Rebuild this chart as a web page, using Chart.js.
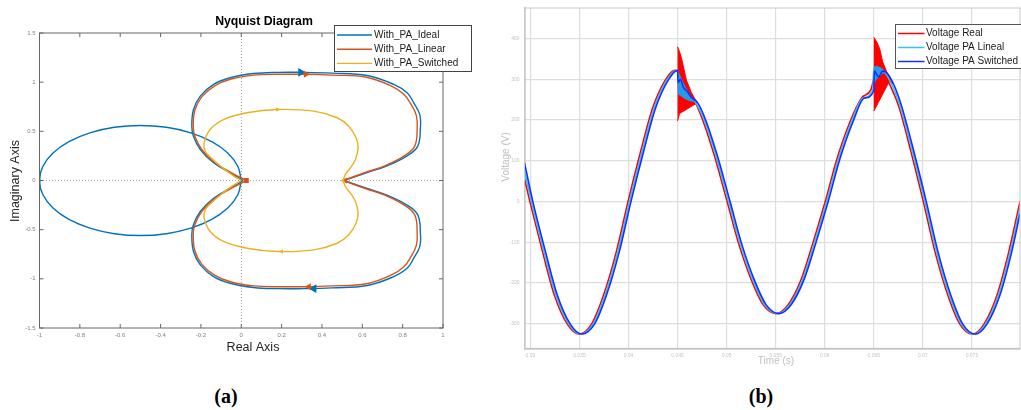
<!DOCTYPE html>
<html>
<head>
<meta charset="utf-8">
<title>Nyquist diagram and voltage waveforms</title>
<style>
  body { margin: 0; background: #fff; width: 1021px; height: 410px; overflow: hidden; position: relative; }
  .wrap { position: absolute; top: 0; }
  .cap { position: absolute; top: 385px; width: 60px; text-align: center; line-height: 20px;
         font: bold 20px "Liberation Serif", "Times New Roman", serif; color: #000; }
</style>
<script src="https://cdn.jsdelivr.net/npm/chart.js@4.4.0/dist/chart.umd.min.js"></script>
</head>
<body>
<div class="wrap" style="left:0"><canvas id="nyquist" width="490" height="372"></canvas></div>
<div class="wrap" style="left:490px"><canvas id="voltage" width="531" height="372"></canvas></div>
<div class="cap" style="left:196px">(a)</div>
<div class="cap" style="left:731px">(b)</div>
<script>
// ---- (a) Nyquist diagram: real / imaginary parts, segments split by null ----
const idealRe = [
  0.01, -0.055, -0.137, -0.203, -0.237, -0.245, -0.237, -0.203, -0.137, -0.055, 0.061, 0.18,
  0.3, 0.45, 0.624, 0.756, 0.822, 0.855, 0.885, 0.888, 0.875, 0.822, 0.723, 0.624, 0.508,
  null,
  0.01, -0.055, -0.137, -0.203, -0.237, -0.245, -0.237, -0.203, -0.137, -0.055, 0.061, 0.18,
  0.3, 0.45, 0.624, 0.756, 0.822, 0.855, 0.885, 0.888, 0.875, 0.822, 0.723, 0.624, 0.508,
  null,
  0, -0.017, -0.067, -0.146, -0.25, -0.371, -0.5, -0.629, -0.75, -0.854, -0.933, -0.983, -1,
  -0.983, -0.933, -0.854, -0.75, -0.629, -0.5, -0.371, -0.25, -0.146, -0.067, -0.017, 0
];
const idealIm = [
  0, 0.078, 0.18, 0.315, 0.45, 0.55, 0.72, 0.858, 0.977, 1.045, 1.088, 1.1,
  1.1, 1.092, 1.068, 0.977, 0.892, 0.79, 0.67, 0.536, 0.35, 0.25, 0.149, 0.081, 0,
  null,
  0, -0.078, -0.18, -0.315, -0.45, -0.55, -0.72, -0.858, -0.977, -1.045, -1.088, -1.1,
  -1.1, -1.092, -1.068, -0.977, -0.892, -0.79, -0.67, -0.536, -0.35, -0.25, -0.149, -0.081, 0,
  null,
  0, 0.145, 0.28, 0.396, 0.485, 0.541, 0.56, 0.541, 0.485, 0.396, 0.28, 0.145, 0,
  -0.145, -0.28, -0.396, -0.485, -0.541, -0.56, -0.541, -0.485, -0.396, -0.28, -0.145, 0
];
const linearRe = [
  0.025, -0.048, -0.13, -0.196, -0.23, -0.238, -0.23, -0.196, -0.13, -0.05, 0.063, 0.18,
  0.32, 0.45, 0.62, 0.745, 0.806, 0.84, 0.868, 0.872, 0.86, 0.808, 0.712, 0.615, 0.505,
  null,
  0.025, -0.048, -0.13, -0.196, -0.23, -0.238, -0.23, -0.196, -0.13, -0.05, 0.063, 0.18,
  0.32, 0.45, 0.62, 0.745, 0.806, 0.84, 0.868, 0.872, 0.86, 0.808, 0.712, 0.615, 0.505
];
const linearIm = [
  0, 0.078, 0.18, 0.315, 0.45, 0.55, 0.715, 0.85, 0.965, 1.032, 1.072, 1.08,
  1.08, 1.072, 1.05, 0.96, 0.876, 0.78, 0.66, 0.53, 0.35, 0.25, 0.149, 0.081, 0,
  null,
  0, -0.078, -0.18, -0.315, -0.45, -0.55, -0.715, -0.85, -0.965, -1.032, -1.072, -1.08,
  -1.08, -1.072, -1.05, -0.96, -0.876, -0.78, -0.66, -0.53, -0.35, -0.25, -0.149, -0.081, 0
];
const switchedRe = [
  0, -0.04, -0.09, -0.154, -0.179, -0.184, -0.154, -0.088, 0.028, 0.18,
  0.359, 0.475, 0.533, 0.569, 0.579, 0.566, 0.541, 0.516, 0.505,
  null,
  0, -0.04, -0.09, -0.154, -0.179, -0.184, -0.154, -0.088, 0.028, 0.18,
  0.359, 0.475, 0.533, 0.569, 0.579, 0.566, 0.541, 0.516, 0.505
];
const switchedIm = [
  0, 0.05, 0.125, 0.24, 0.3, 0.383, 0.519, 0.62, 0.689, 0.722,
  0.705, 0.638, 0.552, 0.434, 0.333, 0.214, 0.129, 0.061, 0,
  null,
  0, -0.05, -0.125, -0.24, -0.3, -0.383, -0.519, -0.62, -0.689, -0.722,
  -0.705, -0.638, -0.552, -0.434, -0.333, -0.214, -0.129, -0.061, 0
];
// direction arrows / start markers on each curve
const idealArrowRe = [0.295, 0.36, -1];
const idealArrowIm = [1.1, -1.1, 0];
const linearArrowRe = [0.32, 0.335, 0.025, 0.515];
const linearArrowIm = [1.08, -1.08, 0, 0];
const switchedArrowRe = [0.18, 0.2, 0.505];
const switchedArrowIm = [0.722, -0.722, 0];

// ---- (b) voltage waveforms: time (s) and voltage (V) ----
const realT = [
  0.0294, 0.02995, 0.03125, 0.03245, 0.03375, 0.03495, 0.03625, 0.03745, 0.03875, 0.03995,
  0.04125, 0.04245, 0.04375, 0.0447, 0.0450, 0.0452, 0.0459, 0.0464, 0.0468, 0.04755,
  0.04875, 0.05005, 0.05125, 0.05255, 0.05375, 0.05505, 0.05625, 0.05755, 0.05875, 0.06005,
  0.06125, 0.06255, 0.06375, 0.0647, 0.0650, 0.0655, 0.0660, 0.0663, 0.0668, 0.06755,
  0.06875, 0.07005, 0.07125, 0.07255, 0.07375, 0.07505, 0.07625, 0.07755, 0.07875, 0.0799
];
const realV = [
  56, 0, -124, -230, -300, -325, -300, -230, -124, 0,
  124, 229, 298, 322, 320, 290, 262, 252, 243, 201,
  113, 0, -105, -194, -254, -275, -254, -194, -105, 0,
  105, 194, 254, 274, 300, 310, 310, 303, 278, 233,
  126, 0, -124, -230, -300, -325, -300, -230, -124, 0
];
const linealT = [
  0.0294, 0.0301, 0.0314, 0.0326, 0.0339, 0.0351, 0.0364, 0.0376, 0.0389, 0.0401,
  0.0414, 0.0426, 0.0439, 0.0449, 0.0450, 0.0452, 0.0455, 0.0459, 0.0463, 0.0468,
  0.0477, 0.0489, 0.0502, 0.0514, 0.0527, 0.0539, 0.0552, 0.0564, 0.0577, 0.0589,
  0.0602, 0.0614, 0.0627, 0.0639, 0.0649, 0.0650, 0.0655, 0.0660, 0.0665, 0.0670,
  0.0677, 0.0689, 0.0702, 0.0714, 0.0727, 0.0739, 0.0752, 0.0764, 0.0777, 0.0789,
  0.0799
];
const linealV = [
  75, 0, -124, -230, -300, -325, -300, -230, -124, 0,
  124, 229, 298, 322, 318, 292, 282, 268, 255, 244,
  201, 113, 0, -105, -194, -254, -275, -254, -194, -105,
  0, 105, 194, 254, 274, 326, 328, 320, 303, 278,
  233, 126, 0, -124, -230, -300, -325, -300, -230, -124,
  -15
];
const switchedT = [
  0.0294, 0.03025, 0.03155, 0.03275, 0.03405, 0.03525, 0.03655, 0.03775, 0.03905, 0.04025,
  0.04155, 0.04275, 0.04405, 0.0450, 0.04505, 0.0453, 0.0456, 0.0460, 0.0464, 0.0470,
  0.04785, 0.04905, 0.05035, 0.05155, 0.05285, 0.05405, 0.05535, 0.05655, 0.05785, 0.05905,
  0.06035, 0.06155, 0.06285, 0.06405, 0.0650, 0.06505, 0.0655, 0.0659, 0.0662, 0.0667,
  0.0672, 0.06785, 0.06905, 0.07035, 0.07155, 0.07285, 0.07405, 0.07535, 0.07655, 0.07785,
  0.07905, 0.0799
];
const switchedV = [
  95, 0, -124, -230, -300, -325, -300, -230, -124, 0,
  124, 229, 298, 322, 292, 300, 280, 270, 256, 244,
  201, 113, 0, -105, -194, -254, -275, -254, -194, -105,
  0, 105, 194, 254, 272, 320, 306, 320, 318, 303,
  278, 233, 126, 0, -124, -230, -300, -325, -300, -230,
  -124, -30
];
// oscillation envelopes after the two switching events (outline of each band)
const realBand1T = [0.0450, 0.0452, 0.0454, 0.0459, 0.0464, 0.0470, 0.0465, 0.0459, 0.0452, 0.0450];
const realBand1V = [380, 368, 352, 298, 268, 242, 235, 226, 216, 198];
const realBand2T = [0.0650, 0.0653, 0.0656, 0.0659, 0.0663, 0.0666, 0.0670, 0.0666, 0.0660, 0.0655, 0.0650];
const realBand2V = [403, 392, 375, 343, 319, 307, 288, 296, 268, 245, 222];
const linealBand1T = [0.0450, 0.0453, 0.0458, 0.0463, 0.0468, 0.0463, 0.0458, 0.0453, 0.0450];
const linealBand1V = [322, 305, 280, 260, 246, 247, 252, 260, 265];
const linealBand2T = [0.0650, 0.0653, 0.0657, 0.0661, 0.0657, 0.0653, 0.0650];
const linealBand2V = [330, 332, 328, 318, 310, 302, 290];

const FONT = '"Liberation Sans", Arial, sans-serif';
Chart.defaults.font.family = FONT;
Chart.defaults.animation = false;

const C = {
  ideal: '#0072BD', linear: '#D95319', switched: '#EDB120',
  real: '#ff0000', lineal: '#35c0f5', sw: '#1030ff', linealBand: '#2a98e6'
};

function pts(xs, ys) {
  return xs.map((x, i) => ({ x: x, y: x === null ? null : ys[i] }));
}
const fmt = v => String(Number(v.toFixed(4)));

// frame, inner ticks, free texts and a boxed legend
function decor(cfg) {
  return {
    id: 'decor',
    afterDraw(chart) {
      const ctx = chart.ctx, a = chart.chartArea;
      ctx.save();
      if (cfg.frame) {
        ctx.strokeStyle = cfg.frame;
        ctx.lineWidth = cfg.frameWidth || 1;
        ctx.strokeRect(a.left, a.top, a.right - a.left, a.bottom - a.top);
      }
      if (cfg.tickLen) {
        const sx = chart.scales.x, sy = chart.scales.y, n = cfg.tickLen;
        ctx.beginPath();
        sx.ticks.forEach(t => {
          const p = sx.getPixelForValue(t.value);
          ctx.moveTo(p, a.bottom); ctx.lineTo(p, a.bottom - n);
          ctx.moveTo(p, a.top); ctx.lineTo(p, a.top + n);
        });
        sy.ticks.forEach(t => {
          const p = sy.getPixelForValue(t.value);
          ctx.moveTo(a.left, p); ctx.lineTo(a.left + n, p);
          ctx.moveTo(a.right, p); ctx.lineTo(a.right - n, p);
        });
        ctx.stroke();
      }
      cfg.texts.forEach(t => {
        ctx.save();
        ctx.translate(t.x, t.y);
        if (t.rot) ctx.rotate(t.rot);
        ctx.font = t.font;
        ctx.fillStyle = t.color;
        ctx.textAlign = 'center';
        ctx.textBaseline = 'middle';
        ctx.fillText(t.text, 0, 0);
        ctx.restore();
      });
      const L = cfg.legend;
      ctx.fillStyle = '#fff';
      ctx.fillRect(L.x, L.y, L.w, L.h);
      ctx.strokeStyle = L.border;
      ctx.lineWidth = 1;
      ctx.strokeRect(L.x, L.y, L.w, L.h);
      ctx.font = L.font;
      ctx.textAlign = 'left';
      ctx.textBaseline = 'middle';
      L.items.forEach((idx, i) => {
        const ds = chart.data.datasets[idx];
        const y = L.y + L.first + i * L.step;
        ctx.strokeStyle = ds.borderColor;
        ctx.lineWidth = L.lineWidth;
        ctx.beginPath(); ctx.moveTo(L.x1, y); ctx.lineTo(L.x2, y); ctx.stroke();
        ctx.fillStyle = '#1a1a1a';
        ctx.fillText(ds.label, L.tx, y);
      });
      ctx.restore();
    }
  };
}

// ---------------- (a) ----------------
const curve = { showLine: true, pointRadius: 0, borderWidth: 1.4, tension: 0.4 };
const arrow = { showLine: false, pointStyle: 'triangle', borderWidth: 0 };

new Chart(document.getElementById('nyquist'), {
  type: 'scatter',
  data: {
    datasets: [
      { ...curve, label: 'With_PA_Ideal', data: pts(idealRe, idealIm), borderColor: C.ideal, order: 6 },
      { ...curve, label: 'With_PA_Linear', data: pts(linearRe, linearIm), borderColor: C.linear, order: 5 },
      { ...curve, label: 'With_PA_Switched', data: pts(switchedRe, switchedIm), borderColor: C.switched, order: 4 },
      { ...arrow, label: 'ideal arrows', data: pts(idealArrowRe, idealArrowIm), backgroundColor: C.ideal,
        pointRadius: [5, 5, 2.5], pointRotation: [90, 270, 90], order: 3 },
      { ...arrow, label: 'linear arrows', data: pts(linearArrowRe, linearArrowIm), backgroundColor: C.linear,
        pointStyle: ['triangle', 'triangle', 'rect', 'triangle'], pointRadius: [4, 4, 3.5, 3.5],
        pointRotation: [90, 270, 0, 270], order: 2 },
      { ...arrow, label: 'switched arrows', data: pts(switchedArrowRe, switchedArrowIm), backgroundColor: C.switched,
        pointRadius: [2.5, 2.5, 2.5], pointRotation: [90, 270, 270], order: 1 }
    ]
  },
  options: {
    responsive: false,
    layout: { autoPadding: false, padding: { top: 33, right: 47, left: 0, bottom: 0 } },
    plugins: { legend: { display: false }, tooltip: { enabled: false } },
    scales: {
      x: {
        type: 'linear', min: -1, max: 1,
        ticks: { stepSize: 0.2, includeBounds: false, font: { size: 6 }, color: '#808080', padding: 4, maxRotation: 0, callback: fmt },
        grid: { drawTicks: false, lineWidth: 0.9, color: c => (c.tick && c.tick.value === 0 ? '#9a9a9a' : 'rgba(0,0,0,0)') },
        border: { display: false, dash: [1, 2] },
        afterFit: s => { s.height = 44; }
      },
      y: {
        type: 'linear', min: -1.5, max: 1.5,
        ticks: { stepSize: 0.5, includeBounds: false, font: { size: 6 }, color: '#808080', padding: 4, callback: fmt },
        grid: { drawTicks: false, lineWidth: 0.9, color: c => (c.tick && c.tick.value === 0 ? '#9a9a9a' : 'rgba(0,0,0,0)') },
        border: { display: false, dash: [1, 2] },
        afterFit: s => { s.width = 39.5; }
      }
    }
  },
  plugins: [decor({
    frame: '#666', tickLen: 4,
    texts: [
      { text: 'Nyquist Diagram', x: 264, y: 22, font: 'bold 12.3px ' + FONT, color: '#000' },
      { text: 'Real Axis', x: 253, y: 348, font: '12.5px ' + FONT, color: '#262626' },
      { text: 'Imaginary Axis', x: 16, y: 181, rot: -Math.PI / 2, font: '12.5px ' + FONT, color: '#262626' }
    ],
    legend: { x: 334.5, y: 25.5, w: 137, h: 46, border: '#444', font: '10px ' + FONT,
              first: 9.5, step: 14.2, x1: 337, x2: 372, tx: 374, lineWidth: 1.4, items: [0, 1, 2] }
  })]
});

// ---------------- (b) ----------------
const wave = { showLine: true, pointRadius: 0, borderWidth: 1.6, cubicInterpolationMode: 'monotone' };
const band = { showLine: true, pointRadius: 0, borderWidth: 1, fill: 'shape', tension: 0 };

new Chart(document.getElementById('voltage'), {
  type: 'scatter',
  data: {
    datasets: [
      { ...wave, label: 'Voltage Real', data: pts(realT, realV), borderColor: C.real, order: 4 },
      { ...wave, label: 'Voltage PA Lineal', data: pts(linealT, linealV), borderColor: C.lineal, order: 2 },
      { ...wave, label: 'Voltage PA Switched', data: pts(switchedT, switchedV), borderColor: C.sw, order: 0 },
      { ...band, label: 'real band 1', data: pts(realBand1T, realBand1V), borderColor: C.real, backgroundColor: C.real, order: 5 },
      { ...band, label: 'real band 2', data: pts(realBand2T, realBand2V), borderColor: C.real, backgroundColor: C.real, order: 5 },
      { ...band, label: 'lineal band 1', data: pts(linealBand1T, linealBand1V), borderColor: C.linealBand, backgroundColor: C.linealBand, order: 1 },
      { ...band, label: 'lineal band 2', data: pts(linealBand2T, linealBand2V), borderColor: C.linealBand, backgroundColor: C.linealBand, order: 1 }
    ]
  },
  options: {
    responsive: false,
    layout: { autoPadding: false, padding: { top: 1.7, right: 1, left: 0, bottom: 0 } },
    plugins: { legend: { display: false }, tooltip: { enabled: false } },
    scales: {
      x: {
        type: 'linear', min: 0.0294, max: 0.0799,
        ticks: { stepSize: 0.005, includeBounds: false, font: { size: 5 }, color: '#c4c4c4', padding: 4, maxRotation: 0, autoSkip: false, callback: fmt },
        grid: { drawTicks: false, color: '#dedede', lineWidth: 1.2 },
        border: { color: '#b0b0b0', width: 1.5 },
        afterFit: s => { s.height = 23.7; }
      },
      y: {
        type: 'linear', min: -360, max: 475,
        ticks: { stepSize: 100, includeBounds: false, font: { size: 5 }, color: '#c4c4c4', padding: 5, callback: fmt },
        grid: { drawTicks: false, color: '#dedede', lineWidth: 1.2 },
        border: { color: '#b0b0b0', width: 1.5 },
        afterFit: s => { s.width = 34.5; }
      }
    }
  },
  plugins: [decor({
    frame: '#c8c8c8', tickLen: 0,
    texts: [
      { text: 'Voltage (V)', x: 16.7, y: 157, rot: -Math.PI / 2, font: '10px ' + FONT, color: '#c0c0c0' },
      { text: 'Time (s)', x: 286, y: 361, font: '10px ' + FONT, color: '#c0c0c0' }
    ],
    legend: { x: 405.5, y: 24.5, w: 140, h: 44, border: '#555', font: '10px ' + FONT,
              first: 9, step: 14, x1: 408, x2: 434.5, tx: 436, lineWidth: 1.5, items: [0, 1, 2] }
  })]
});
</script>
</body>
</html>
